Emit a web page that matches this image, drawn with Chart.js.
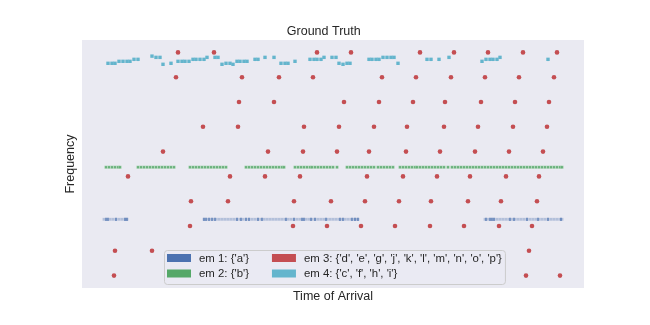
<!DOCTYPE html>
<html>
<head>
<meta charset="utf-8">
<script src="https://cdn.jsdelivr.net/npm/chart.js@4.4.1/dist/chart.umd.min.js"></script>
<style>
  html, body { margin: 0; padding: 0; background: #fff; }
</style>
</head>
<body>
<canvas id="toa-chart" width="650" height="325"></canvas>
<script>
// emitter labels (legend)
const emLabels = [
  "em 1: {'a'}",
  "em 2: {'b'}",
  "em 3: {'d', 'e', 'g', 'j', 'k', 'l', 'm', 'n', 'o', 'p'}",
  "em 4: {'c', 'f', 'h', 'i'}"
];

// em 1 - one frequency, dense pulse trains
const em1Freq = 3.27;
const em1Times = [22, 25, 28, 31, 34, 37, 40, 43, 45,
  122, 125, 128, 131, 134, 137, 140, 143, 146, 149, 152, 155, 158, 161, 164, 167, 170, 173, 176, 179,
  182, 185, 188, 191, 194, 197, 200, 203, 206, 209, 212, 215, 218, 221, 224, 227, 230, 233, 236, 239,
  242, 245, 248, 251, 254, 257, 260, 263, 266, 269, 272, 274, 276,
  403, 406, 409, 412, 415, 418, 421, 424, 427, 430, 433, 436, 439, 442, 445, 448, 451, 454, 457, 460,
  463, 466, 469, 472, 475, 478, 480];
// pulses that show up darker (overlapping)
const em1StrongTimes = [24, 26, 34, 43, 45, 122, 124, 127, 130, 133, 155, 159, 164, 167, 176, 180, 204, 212,
  220, 222, 229, 233, 244, 258, 261, 270, 273, 276, 404, 408, 410, 412, 428, 432, 445, 456, 466, 479];

// em 2 - one frequency
const em2Freq = 5.37;
const em2Times = [24, 27, 30, 33, 36, 38,
  56, 59, 62, 65, 68, 71, 74, 77, 80, 83, 86, 89, 92,
  108, 111, 114, 117, 120, 123, 126, 129, 132, 135, 138, 141, 144,
  164, 167, 170, 173, 176, 179, 182, 185, 188, 191, 194, 197, 200, 202,
  213, 216, 219, 222, 225, 228,
  230, 233, 236, 239, 242, 245, 248, 251, 255,
  265, 268, 271, 274, 277, 280, 283, 286, 289, 292,
  296, 299, 302, 305, 308, 311,
  318, 321, 324, 327, 330, 333,
  335, 338, 341, 344, 347, 350, 353, 356, 359, 362, 366,
  370, 373, 376, 379, 382, 385, 388, 391, 394, 397, 400, 403, 406, 409, 412, 415, 418, 421, 424,
  427, 430, 433, 436, 439, 442, 445, 448, 451, 454, 457, 460, 463, 466, 469, 472, 475, 478, 480];

// em 3 - frequency hopping, one list of arrival times per frequency
const em3Freqs = [10, 9, 8, 7, 6, 5, 4, 3, 2, 1];
const em3Times = [
  [96, 132, 235, 269, 338, 372, 406, 441, 475],
  [94, 160, 197, 231, 300, 334, 369, 403, 437, 472],
  [157, 192, 262, 297, 331, 363, 399, 433, 467],
  [121, 156, 222, 257, 292, 325, 362, 396, 431, 465],
  [81, 186, 221, 255, 287, 324, 358, 393, 427, 461],
  [46, 148, 183, 218, 285, 321, 355, 388, 424, 457],
  [109, 146, 212, 249, 283, 317, 349, 386, 419, 455],
  [108, 211, 245, 279, 313, 348, 382, 417, 450],
  [33, 70, 447],
  [32, 444, 478]
];

// em 4 - agile frequency around the top
const em4Times = [26, 30, 33, 37, 41, 45, 48, 52, 56, 70, 74, 78, 81, 89,
  96, 100, 103, 107, 111, 114, 118, 122, 125, 133, 136, 140, 144, 148, 151,
  155, 158, 162, 165, 173, 176, 183, 192, 199, 203, 206, 213,
  228, 232, 235, 239, 242, 250, 254, 257, 261, 265, 268,
  287, 290, 294, 297, 301, 305, 309, 312, 316, 345, 349, 357, 367,
  400, 404, 408, 411, 415, 418, 466];
const em4Freqs = [9.56, 9.56, 9.56, 9.64, 9.64, 9.64, 9.64, 9.72, 9.72, 9.85, 9.80, 9.80, 9.52, 9.56,
  9.64, 9.64, 9.64, 9.64, 9.72, 9.72, 9.72, 9.72, 9.80, 9.80, 9.80, 9.52, 9.56, 9.56, 9.52,
  9.64, 9.64, 9.64, 9.64, 9.72, 9.72, 9.80, 9.80, 9.56, 9.56, 9.56, 9.64,
  9.72, 9.72, 9.72, 9.72, 9.80, 9.80, 9.80, 9.56, 9.52, 9.56, 9.56,
  9.72, 9.72, 9.72, 9.72, 9.80, 9.80, 9.80, 9.80, 9.56, 9.72, 9.72, 9.72, 9.80,
  9.64, 9.72, 9.72, 9.72, 9.72, 9.80, 9.72];

const colors = {
  blue: '#4C72B0',
  green: '#55A868',
  red: '#C44E52',
  cyan: '#64B5CD'
};
const textColor = '#262626';
const fontFamily = "'Liberation Sans', Arial, sans-serif";

// build point lists
const em1Points = em1Times.map(t => ({ x: t, y: em1Freq }));
const em1StrongPoints = em1StrongTimes.map(t => ({ x: t, y: em1Freq }));
const em2Points = em2Times.map(t => ({ x: t, y: em2Freq }));
const em3Points = [];
em3Freqs.forEach((f, i) => {
  em3Times[i].forEach(t => em3Points.push({ x: t, y: f }));
});
const em4Points = em4Times.map((t, i) => ({ x: t, y: em4Freqs[i] }));

// grey-blue plot background like seaborn darkgrid
const plotBackground = {
  id: 'plotBackground',
  beforeDraw(chart) {
    const { ctx, chartArea } = chart;
    ctx.save();
    ctx.fillStyle = '#ffffff';
    ctx.fillRect(0, 0, chart.width, chart.height);
    ctx.fillStyle = '#EAEAF2';
    ctx.fillRect(chartArea.left, chartArea.top, chartArea.right - chartArea.left, chartArea.bottom - chartArea.top);
    ctx.restore();
  }
};

// legend in the lower centre of the plot, 2 rows, column-major
const insideLegend = {
  id: 'insideLegend',
  afterDatasetsDraw(chart) {
    const { ctx, chartArea } = chart;
    const items = chart.data.datasets.filter(d => d.swatch);
    const rows = 2;
    const handleW = 24, handleH = 8, textPad = 8, colGap = 23, pad = 3, rowGap = 15.5;
    ctx.save();
    ctx.font = '11.4px ' + fontFamily;
    const cols = [];
    for (let i = 0; i < items.length; i += rows) cols.push(items.slice(i, i + rows));
    const colWidths = cols.map(c => handleW + textPad + Math.max(...c.map(d => ctx.measureText(d.label).width)));
    const boxW = pad * 2 + colWidths.reduce((a, b) => a + b, 0) + colGap * (cols.length - 1);
    const boxH = 34;
    const left = Math.round((chartArea.left + chartArea.right) / 2 - boxW / 2) + 1;
    const top = chartArea.bottom - 4 - boxH;

    ctx.beginPath();
    ctx.roundRect(left + 0.5, top + 0.5, boxW, boxH, 3);
    ctx.fillStyle = 'rgba(234,234,242,0.8)';
    ctx.fill();
    ctx.strokeStyle = '#cccccc';
    ctx.lineWidth = 1;
    ctx.stroke();

    let x = left + pad;
    cols.forEach((c, ci) => {
      c.forEach((d, ri) => {
        const cy = top + 8 + ri * rowGap;
        ctx.fillStyle = d.swatch;
        ctx.fillRect(x, cy - handleH / 2, handleW, handleH);
        ctx.fillStyle = textColor;
        ctx.textBaseline = 'middle';
        ctx.fillText(d.label, x + handleW + textPad, cy + 0.5);
      });
      x += colWidths[ci] + colGap;
    });
    ctx.restore();
  }
};

const ctx = document.getElementById('toa-chart').getContext('2d');
Chart.defaults.font.family = fontFamily;
Chart.defaults.color = textColor;

// first dataset is painted last (on top)
window.toaChart = new Chart(ctx, {
  type: 'scatter',
  data: {
    datasets: [
      {
        label: 'em 1 strong',
        data: em1StrongPoints,
        pointStyle: 'line',
        rotation: 90,
        pointRadius: 1.6,
        borderWidth: 1.2,
        borderColor: colors.blue,
        backgroundColor: colors.blue
      },
      {
        label: emLabels[0],
        swatch: colors.blue,
        data: em1Points,
        pointStyle: 'rect',
        pointRadius: 2,
        borderWidth: 0,
        backgroundColor: 'rgba(76,114,176,0.35)'
      },
      {
        label: emLabels[1],
        swatch: colors.green,
        data: em2Points,
        pointStyle: 'rect',
        pointRadius: 2.1,
        borderWidth: 0.5,
        borderColor: 'rgba(255,255,255,0.5)',
        backgroundColor: 'rgba(85,168,104,0.85)'
      },
      {
        label: emLabels[2],
        swatch: colors.red,
        data: em3Points,
        pointStyle: 'circle',
        pointRadius: 2.3,
        borderWidth: 0,
        backgroundColor: colors.red
      },
      {
        label: emLabels[3],
        swatch: colors.cyan,
        data: em4Points,
        pointStyle: 'rect',
        pointRadius: 2.4,
        borderWidth: 0,
        backgroundColor: colors.cyan
      }
    ]
  },
  options: {
    responsive: false,
    animation: false,
    devicePixelRatio: 1,
    layout: {
      padding: { left: 63.5, right: 66, top: 24.5, bottom: 20.5 }
    },
    plugins: {
      legend: { display: false },
      tooltip: { enabled: false },
      title: {
        display: true,
        text: 'Ground Truth',
        color: textColor,
        font: { size: 12.5, weight: 'normal' },
        padding: { top: 0, bottom: 0.5 }
      }
    },
    scales: {
      x: {
        type: 'linear',
        min: 0,
        max: 502,
        grid: { display: false, drawTicks: false },
        border: { display: false },
        ticks: { display: false },
        title: {
          display: true,
          text: 'Time of Arrival',
          color: textColor,
          font: { size: 12.5 },
          padding: { top: 1.5, bottom: 0 }
        }
      },
      y: {
        type: 'linear',
        min: 0.5,
        max: 10.5,
        grid: { display: false, drawTicks: false },
        border: { display: false },
        ticks: { display: false },
        title: {
          display: true,
          text: 'Frequency',
          color: textColor,
          font: { size: 12.5 },
          padding: { top: 0, bottom: 3.5 }
        }
      }
    }
  },
  plugins: [plotBackground, insideLegend]
});
</script>
</body>
</html>
